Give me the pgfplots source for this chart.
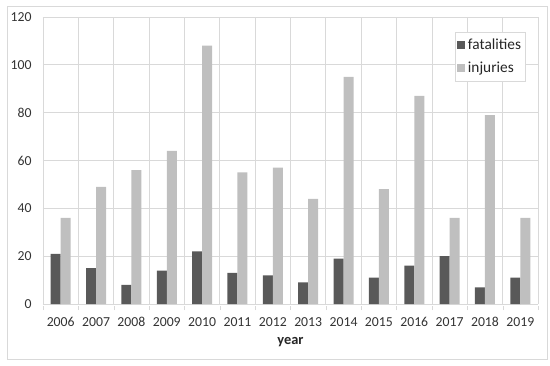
\documentclass[border=0pt]{standalone}
\usepackage{pgfplots}
\pgfplotsset{compat=1.18}
\usepackage{fontspec}
\setmainfont{Carlito}
\definecolor{dark}{HTML}{595959}
\definecolor{light}{HTML}{BFBFBF}
\definecolor{gridc}{HTML}{D9D9D9}
\begin{document}
\begin{tikzpicture}
\begin{axis}[
  name=ax,
  scale only axis,
  width=371.25pt, height=215.25pt,
  ybar=0pt, bar width=7.5pt,
  xmin=-0.5, xmax=13.5,
  ymin=0, ymax=120,
  ytick={0,20,...,120},
  xtick={0,...,13},
  xticklabels={2006,2007,2008,2009,2010,2011,2012,2013,2014,2015,2016,2017,2018,2019},
  minor xtick={-0.5,0.5,...,13.5},
  major tick length=0pt,
  minor tick length=3pt,
  xtick pos=bottom,
  xtick style={draw=gridc},
  minor x tick style={draw=gridc, yshift=-1.5pt},
  ymajorgrids, xminorgrids,
  grid style={draw=gridc, line width=0.6pt},
  axis line style={draw=gridc, line width=0.6pt},
  axis lines*=box,
  separate axis lines,
  every outer x axis line/.append style={draw=gridc},
  /pgf/number format/assume math mode=true,
  ticklabel style={font=\fontsize{10.3}{12}\selectfont, text=black!80},
  yticklabel style={xshift=-5pt},
  xticklabel style={yshift=-6pt, text height=7pt, text depth=0pt},
  xlabel={\textbf{year}},
  xlabel style={font=\fontsize{10.8}{12}\selectfont, text=black!85, yshift=-2pt},
  legend style={at={(1,1)}, anchor=north east, xshift=-9pt, yshift=-11.25pt,
    draw=gridc, font=\fontsize{11.5}{13}\selectfont, text=black!85,
    inner xsep=1.5pt, inner ysep=3pt, row sep=4pt},
  legend image code/.code={\fill[#1] (0pt,-2.5pt) rectangle (6pt,3.5pt);},
  legend cell align=left,
]
\addplot[fill=dark, draw=none] coordinates {(0,21) (1,15) (2,8) (3,14) (4,22) (5,13) (6,12) (7,9) (8,19) (9,11) (10,16) (11,20) (12,7) (13,11)};
\addplot[fill=light, draw=none] coordinates {(0,36) (1,49) (2,56) (3,64) (4,108) (5,55) (6,57) (7,44) (8,95) (9,48) (10,87) (11,36) (12,79) (13,36)};
\legend{fatalities, injuries}
\end{axis}
\draw[draw=gridc, line width=0.6pt] ([shift={(-27pt,-41.25pt)}]ax.south west) rectangle ([shift={(6.75pt,8.25pt)}]ax.north east);
\pgfresetboundingbox
\path[use as bounding box] ([shift={(-32.25pt,-45.75pt)}]ax.south west) rectangle ([shift={(9pt,12.75pt)}]ax.north east);
\end{tikzpicture}
\end{document}
